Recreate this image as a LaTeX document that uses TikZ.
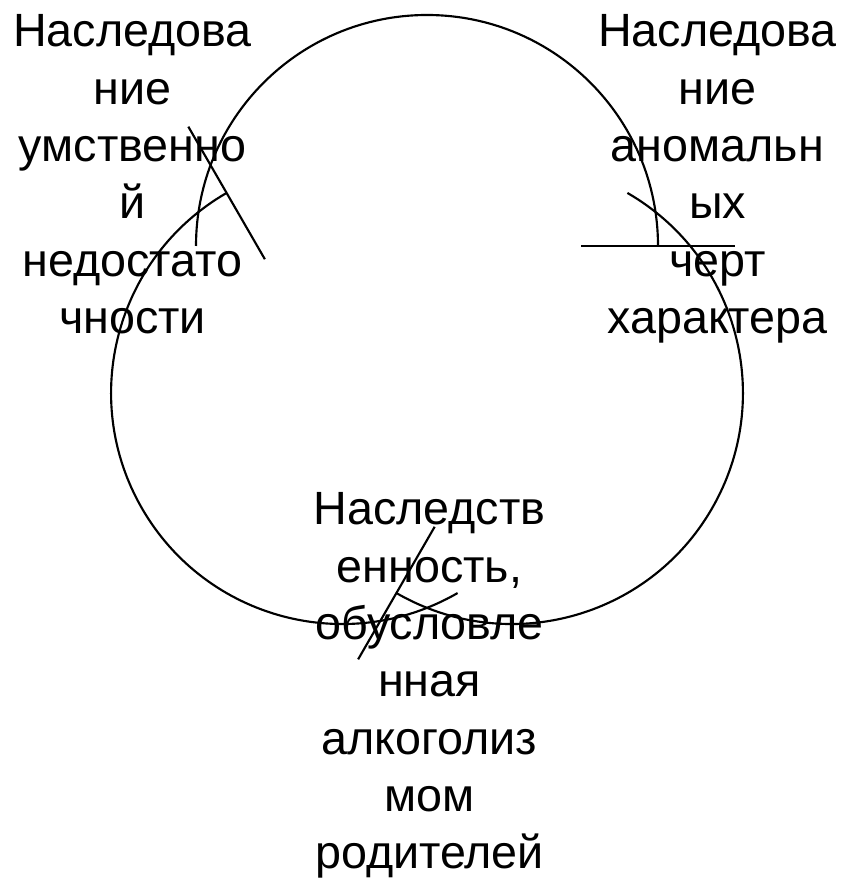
\documentclass[tikz,border=0pt]{standalone}
\usepackage{fontspec}
\setmainfont{Liberation Sans}
\begin{document}
\begin{tikzpicture}[x=0.75pt,y=0.75pt,
  ring/.style={line width=1.6pt, draw=black},
  txt/.style={font=\fontsize{35}{43}\selectfont, text width=230pt, align=center, inner sep=0pt, anchor=base}]
\useasboundingbox (0,0) rectangle (845,878);
\def\ringR{173.25pt}
\def\ringIn{115.85pt}
\def\ringOut{230.65pt}
\coordinate (cT) at (427,632);
\coordinate (cR) at (511.9,485);
\coordinate (cL) at (342.1,485);
% arcs
\draw[ring] ([shift={(180:\ringR)}]cT) arc[start angle=180,end angle=0,radius=\ringR] coordinate (eT);
\draw[ring] ([shift={(60:\ringR)}]cR) arc[start angle=60,end angle=-120,radius=\ringR] coordinate (eR);
\draw[ring] ([shift={(-60:\ringR)}]cL) arc[start angle=-60,end angle=-240,radius=\ringR] coordinate (eL);
% arrow base lines
\draw[ring] ([shift={(0:\ringIn)}]cT) -- ([shift={(0:\ringOut)}]cT);
\draw[ring] ([shift={(-120:\ringIn)}]cR) -- ([shift={(-120:\ringOut)}]cR);
\draw[ring] ([shift={(120:\ringIn)}]cL) -- ([shift={(120:\ringOut)}]cL);
% texts
\node[txt] (tl) at (132.5,831.3) {Наследова\\ние\\умственно\\й\\недостато\\чности};
\node[txt] (tr) at (717.5,831.3) {Наследова\\ние\\аномальн\\ых\\черт\\характера};
\node[txt] (tb) at (429.5,353) {Наследств\\енность,\\обусловле\\нная\\алкоголиз\\мом\\родителей};
\end{tikzpicture}
\end{document}
